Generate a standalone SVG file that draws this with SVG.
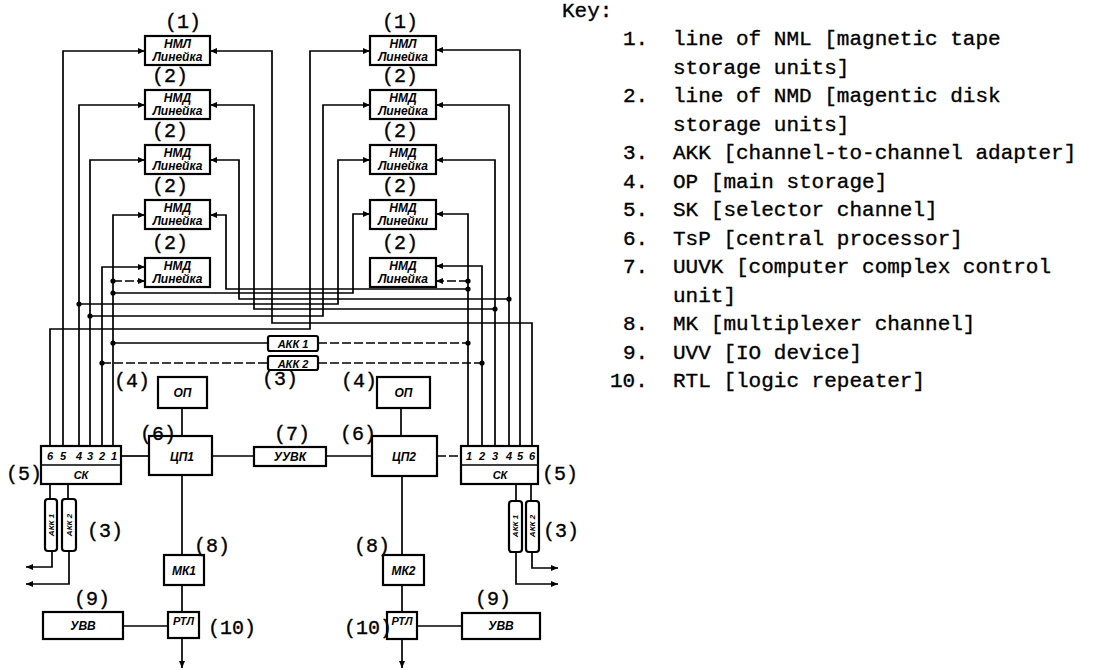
<svg xmlns="http://www.w3.org/2000/svg" width="1106" height="670" viewBox="0 0 1106 670">
<defs>
<marker id="ah" markerWidth="8" markerHeight="6" refX="7" refY="3" orient="auto" markerUnits="userSpaceOnUse"><path d="M0,0 L7,3 L0,6 z" fill="#000"/></marker>
<style>
.ln{fill:none;stroke:#000;stroke-width:1.7}
.d{stroke-dasharray:9 3}
.bx{fill:#fff;stroke:#000;stroke-width:2.2}
.dot{fill:#000}
.bt{font-family:"Liberation Sans",Arial,sans-serif;font-style:italic;font-weight:bold;font-size:12px;text-anchor:middle}
.sm{font-size:11px}
.lb{font-family:"Liberation Mono","Courier New",monospace;font-size:20px;stroke:#000;stroke-width:0.35}
.k{font-family:"Liberation Mono","Courier New",monospace;font-size:21px;stroke:#000;stroke-width:0.35}
</style>
</defs>
<rect width="1106" height="670" fill="#fff"/>

<g id="connectors">
<path class="ln" d="M63,446 V51 H145" marker-end="url(#ah)"/>
<path class="ln" d="M79,446 V105 H145" marker-end="url(#ah)"/>
<path class="ln" d="M90,446 V160 H145" marker-end="url(#ah)"/>
<path class="ln" d="M102,446 V267 H145" marker-end="url(#ah)"/>
<path class="ln" d="M113,446 V215 H145" marker-end="url(#ah)"/>
<path class="ln d" d="M113,281 H145" marker-end="url(#ah)"/>
<path class="ln" d="M50,446 V329 H310 V51 H370" marker-end="url(#ah)"/>
<path class="ln" d="M520,446 V50 H436" marker-end="url(#ah)"/>
<path class="ln" d="M509,446 V105 H436" marker-end="url(#ah)"/>
<path class="ln" d="M495,446 V160 H436" marker-end="url(#ah)"/>
<path class="ln" d="M482,446 V266 H436" marker-end="url(#ah)"/>
<path class="ln" d="M468,446 V214 H436" marker-end="url(#ah)"/>
<path class="ln d" d="M468,281 H436" marker-end="url(#ah)"/>
<path class="ln" d="M532,446 V323 H272 V51 H210" marker-end="url(#ah)"/>
<path class="ln" d="M495,309 H254 V105 H210" marker-end="url(#ah)"/>
<path class="ln" d="M509,299 H239 V160 H210" marker-end="url(#ah)"/>
<path class="ln" d="M468,289 H226 V215 H210" marker-end="url(#ah)"/>
<path class="ln" d="M90,316 H323 V105 H370" marker-end="url(#ah)"/>
<path class="ln" d="M79,304 H338 V160 H370" marker-end="url(#ah)"/>
<path class="ln" d="M113,293 H353 V214 H370" marker-end="url(#ah)"/>
<path class="ln" d="M113,343 H268"/>
<path class="ln d" d="M318,343 H468"/>
<path class="ln d" d="M102,363 H268"/>
<path class="ln d" d="M318,363 H482"/>
<path class="ln" d="M121,456 H149"/>
<path class="ln" d="M212,456 H254"/>
<path class="ln" d="M326,456 H372"/>
<path class="ln d" d="M437,456 H461"/>
<path class="ln" d="M182,408 V436"/>
<path class="ln" d="M401,408 V436"/>
<path class="ln" d="M182,475 V555"/>
<path class="ln" d="M182,585 V612"/>
<path class="ln" d="M182,638 V668" marker-end="url(#ah)"/>
<path class="ln" d="M123,626 H168"/>
<path class="ln" d="M402,476 V555"/>
<path class="ln" d="M402,585 V612"/>
<path class="ln" d="M402,639 V668" marker-end="url(#ah)"/>
<path class="ln" d="M417,626 H462"/>
<path class="ln" d="M50,484 V499"/>
<path class="ln" d="M68,484 V499"/>
<path class="ln" d="M52,551 V567 H26" marker-end="url(#ah)"/>
<path class="ln" d="M69,551 V584 H26" marker-end="url(#ah)"/>
<path class="ln" d="M516,484 V501"/>
<path class="ln" d="M531,484 V501"/>
<path class="ln" d="M516,552 V584 H558" marker-end="url(#ah)"/>
<path class="ln" d="M532,552 V568 H558" marker-end="url(#ah)"/>
<circle class="dot" cx="113" cy="281" r="2.6"/>
<circle class="dot" cx="113" cy="293" r="2.6"/>
<circle class="dot" cx="79" cy="304" r="2.6"/>
<circle class="dot" cx="90" cy="316" r="2.6"/>
<circle class="dot" cx="113" cy="343" r="2.6"/>
<circle class="dot" cx="102" cy="363" r="2.6"/>
<circle class="dot" cx="468" cy="281" r="2.6"/>
<circle class="dot" cx="468" cy="289" r="2.6"/>
<circle class="dot" cx="509" cy="299" r="2.6"/>
<circle class="dot" cx="495" cy="309" r="2.6"/>
<circle class="dot" cx="468" cy="343" r="2.6"/>
<circle class="dot" cx="482" cy="363" r="2.6"/>
</g>

<g id="nml-l"><rect class="bx" x="145" y="36" width="65" height="29"/><text class="bt" x="177.5" y="48">НМЛ</text><text class="bt" x="177.5" y="61">Линейка</text><text class="lb" x="183" y="28" text-anchor="middle">(1)</text></g>
<g id="nmd-l1"><rect class="bx" x="145" y="90" width="65" height="29"/><text class="bt" x="177.5" y="102">НМД</text><text class="bt" x="177.5" y="115">Линейка</text><text class="lb" x="170" y="82" text-anchor="middle">(2)</text></g>
<g id="nmd-l2"><rect class="bx" x="145" y="145" width="65" height="29"/><text class="bt" x="177.5" y="157">НМД</text><text class="bt" x="177.5" y="170">Линейка</text><text class="lb" x="170" y="137" text-anchor="middle">(2)</text></g>
<g id="nmd-l3"><rect class="bx" x="145" y="200" width="65" height="29"/><text class="bt" x="177.5" y="212">НМД</text><text class="bt" x="177.5" y="225">Линейка</text><text class="lb" x="170" y="192" text-anchor="middle">(2)</text></g>
<g id="nmd-l4"><rect class="bx" x="145" y="258" width="65" height="29"/><text class="bt" x="177.5" y="270">НМД</text><text class="bt" x="177.5" y="283">Линейка</text><text class="lb" x="170" y="249" text-anchor="middle">(2)</text></g>

<g id="nml-r"><rect class="bx" x="370" y="36" width="66" height="29"/><text class="bt" x="403" y="48">НМЛ</text><text class="bt" x="403" y="61">Линейка</text><text class="lb" x="400" y="28" text-anchor="middle">(1)</text></g>
<g id="nmd-r1"><rect class="bx" x="370" y="90" width="66" height="29"/><text class="bt" x="403" y="102">НМД</text><text class="bt" x="403" y="115">Линейка</text><text class="lb" x="400" y="82" text-anchor="middle">(2)</text></g>
<g id="nmd-r2"><rect class="bx" x="370" y="145" width="66" height="29"/><text class="bt" x="403" y="157">НМД</text><text class="bt" x="403" y="170">Линейка</text><text class="lb" x="400" y="137" text-anchor="middle">(2)</text></g>
<g id="nmd-r3"><rect class="bx" x="370" y="200" width="66" height="29"/><text class="bt" x="403" y="212">НМД</text><text class="bt" x="403" y="225">Линейки</text><text class="lb" x="400" y="192" text-anchor="middle">(2)</text></g>
<g id="nmd-r4"><rect class="bx" x="370" y="258" width="66" height="29"/><text class="bt" x="403" y="270">НМД</text><text class="bt" x="403" y="283">Линейка</text><text class="lb" x="400" y="249" text-anchor="middle">(2)</text></g>

<g id="akk1"><rect class="bx" x="268" y="336" width="50" height="15" rx="2"/><text class="bt sm" x="293" y="347.5">АКК 1</text></g>
<g id="akk2"><rect class="bx" x="268" y="356" width="50" height="14" rx="2"/><text class="bt sm" x="293" y="367.5">АКК 2</text><text class="lb" x="280" y="385" text-anchor="middle">(3)</text></g>

<g id="op1"><rect class="bx" x="158" y="377" width="49" height="31"/><text class="bt" x="182.5" y="397">ОП</text><text class="lb" x="132" y="387" text-anchor="middle">(4)</text></g>
<g id="op2"><rect class="bx" x="377" y="377" width="53" height="31"/><text class="bt" x="403.5" y="397">ОП</text><text class="lb" x="359" y="387" text-anchor="middle">(4)</text></g>

<g id="cp1"><rect class="bx" x="149" y="436" width="63" height="39"/><text class="bt" x="182" y="461">ЦП1</text><text class="lb" x="158" y="440" text-anchor="middle">(6)</text></g>
<g id="cp2"><rect class="bx" x="372" y="436" width="65" height="40"/><text class="bt" x="404" y="461">ЦП2</text><text class="lb" x="358" y="440" text-anchor="middle">(6)</text></g>
<g id="uuvk"><rect class="bx" x="254" y="447" width="72" height="19"/><text class="bt" x="290" y="461">УУВК</text><text class="lb" x="292" y="440" text-anchor="middle">(7)</text></g>

<g id="sk1"><rect class="bx" x="41" y="446" width="80" height="38"/><line class="ln" x1="41" y1="465" x2="121" y2="465"/>
<text class="bt sm" x="50" y="460">6</text><text class="bt sm" x="63" y="460">5</text><text class="bt sm" x="79" y="460">4</text><text class="bt sm" x="90" y="460">3</text><text class="bt sm" x="102" y="460">2</text><text class="bt sm" x="114" y="460">1</text>
<text class="bt sm" x="81" y="479">СК</text><text class="lb" x="24" y="480" text-anchor="middle">(5)</text></g>
<g id="sk2"><rect class="bx" x="461" y="446" width="77" height="38"/><line class="ln" x1="461" y1="465" x2="538" y2="465"/>
<text class="bt sm" x="469" y="460">1</text><text class="bt sm" x="482" y="460">2</text><text class="bt sm" x="495" y="460">3</text><text class="bt sm" x="509" y="460">4</text><text class="bt sm" x="520" y="460">5</text><text class="bt sm" x="532" y="460">6</text>
<text class="bt sm" x="500" y="479">СК</text><text class="lb" x="560" y="480" text-anchor="middle">(5)</text></g>

<g id="akk-l"><rect class="bx" x="45" y="499" width="12" height="52" rx="3"/><rect class="bx" x="62" y="499" width="14" height="52" rx="3"/>
<text class="bt" style="font-size:8px" transform="translate(54,525) rotate(-90)">АКК 1</text><text class="bt" style="font-size:8px" transform="translate(72,525) rotate(-90)">АКК 2</text>
<text class="lb" x="105" y="537" text-anchor="middle">(3)</text></g>
<g id="akk-r"><rect class="bx" x="509" y="501" width="13" height="51" rx="3"/><rect class="bx" x="526" y="501" width="13" height="51" rx="3"/>
<text class="bt" style="font-size:8px" transform="translate(518,526) rotate(-90)">АКК 1</text><text class="bt" style="font-size:8px" transform="translate(535,526) rotate(-90)">АКК 2</text>
<text class="lb" x="561" y="537" text-anchor="middle">(3)</text></g>

<g id="mk1"><rect class="bx" x="164" y="555" width="40" height="30"/><text class="bt" x="184" y="575">МК1</text><text class="lb" x="212" y="552" text-anchor="middle">(8)</text></g>
<g id="mk2"><rect class="bx" x="383" y="555" width="41" height="30"/><text class="bt" x="403.5" y="575">МК2</text><text class="lb" x="372" y="552" text-anchor="middle">(8)</text></g>
<g id="rtl1"><rect class="bx" x="168" y="612" width="31" height="26"/><text class="bt sm" x="183.5" y="625">РТЛ</text><text class="lb" x="208" y="634">(10)</text></g>
<g id="rtl2"><rect class="bx" x="387" y="612" width="30" height="27"/><text class="bt sm" x="402" y="625">РТЛ</text><text class="lb" x="392" y="634" text-anchor="end">(10)</text></g>
<g id="uvv1"><rect class="bx" x="43" y="612" width="80" height="27"/><text class="bt" x="83" y="630">УВВ</text><text class="lb" x="92" y="605" text-anchor="middle">(9)</text></g>
<g id="uvv2"><rect class="bx" x="462" y="613" width="78" height="26"/><text class="bt" x="501" y="630">УВВ</text><text class="lb" x="493" y="605" text-anchor="middle">(9)</text></g>

<g id="key">
<text class="k" x="562" y="17">Key:</text>
<text class="k" x="623" y="45">1.</text><text class="k" x="673" y="45">line of NML [magnetic tape</text>
<text class="k" x="673" y="73.5">storage units]</text>
<text class="k" x="623" y="102">2.</text><text class="k" x="673" y="102">line of NMD [magentic disk</text>
<text class="k" x="673" y="130.5">storage units]</text>
<text class="k" x="623" y="159">3.</text><text class="k" x="673" y="159">AKK [channel-to-channel adapter]</text>
<text class="k" x="623" y="187.5">4.</text><text class="k" x="673" y="187.5">OP [main storage]</text>
<text class="k" x="623" y="216">5.</text><text class="k" x="673" y="216">SK [selector channel]</text>
<text class="k" x="623" y="244.5">6.</text><text class="k" x="673" y="244.5">TsP [central processor]</text>
<text class="k" x="623" y="273">7.</text><text class="k" x="673" y="273">UUVK [computer complex control</text>
<text class="k" x="673" y="301.5">unit]</text>
<text class="k" x="623" y="330">8.</text><text class="k" x="673" y="330">MK [multiplexer channel]</text>
<text class="k" x="623" y="358.5">9.</text><text class="k" x="673" y="358.5">UVV [IO device]</text>
<text class="k" x="610" y="387">10.</text><text class="k" x="673" y="387">RTL [logic repeater]</text>
</g>
</svg>
